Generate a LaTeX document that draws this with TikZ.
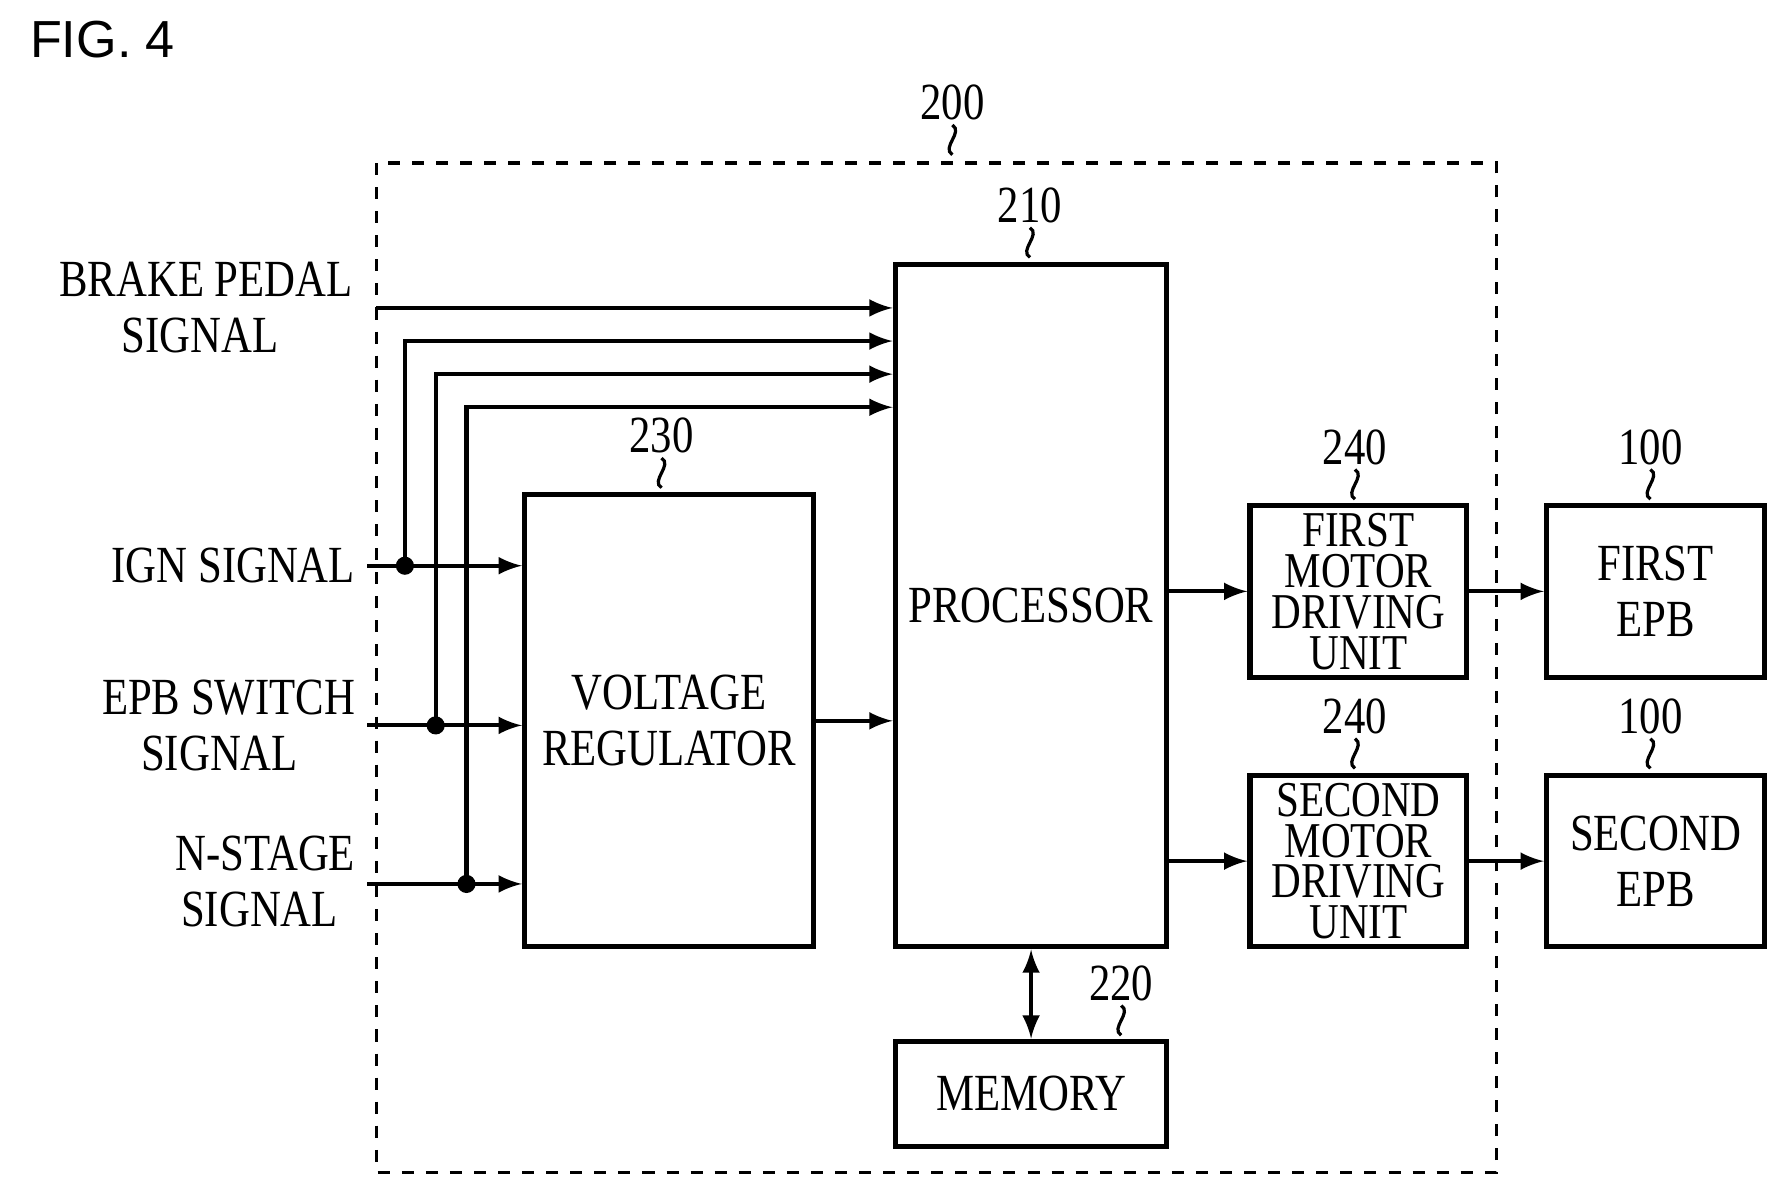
\documentclass[tikz,border=0pt]{standalone}
\usepackage{fontspec}
\setmainfont{Liberation Serif}[FakeStretch=0.82]
\newfontfamily\figfont{Liberation Sans}
\usetikzlibrary{positioning, arrows}
\tikzset{
	blk/.style={rectangle, draw, line width=1.3pt, align=center, inner sep=0pt,
		font=\fontsize{13}{14}\selectfont},
	drv/.style={blk, font=\fontsize{12.5}{10.2}\selectfont},
	sig/.style={align=right, font=\fontsize{13}{14}\selectfont, inner sep=0pt},
	ref/.style={font=\fontsize{13}{14}\selectfont, inner sep=1pt},
	arr/.style={-latex, line width=1pt},
	dot/.style={circle, fill, inner sep=1.6pt}
}
\newcommand{\refmark}[3]{%
	\node[ref] (#1) at (#2) {#3};
	\draw[line width=0.8pt] (#1.south) .. controls +(10,6) and +(-10,-6) .. ++(0,26);}
\begin{document}
\begin{tikzpicture}[x=0.01cm, y=-0.01cm]
			\useasboundingbox (0,0) rectangle (1565,1046);
			
			%Frame
			\node[font=\figfont\fontsize{13}{14}\selectfont, anchor=west] (fig) at (14,35) {FIG. 4};
			\draw[dashed, line width=0.8pt] (330,143) rectangle (1312,1028);
			\refmark{lblUnit}{835,90}{200}
			
			%Nodes
			\node[blk, minimum width=2.38cm, minimum height=5.98cm] (processor) at (904,531) {PROCESSOR};
			\refmark{lblProc}{903,180}{210}
			
			\node[blk, minimum width=2.53cm, minimum height=3.96cm] (regulator) at (586.5,632) {VOLTAGE\\REGULATOR};
			\refmark{lblReg}{580,382}{230}
			
			\node[blk, minimum width=2.38cm, minimum height=0.92cm] (memory) at (904,959) {MEMORY};
			\refmark{lblMem}{983,862}{220}
			
			\node[drv, minimum width=1.9cm, minimum height=1.51cm] (firstDrv) at (1191,518.5) {FIRST\\MOTOR\\DRIVING\\UNIT};
			\refmark{lblDrvA}{1188,392}{240}
			
			\node[drv, minimum width=1.9cm, minimum height=1.5cm] (secondDrv) at (1191,755) {SECOND\\MOTOR\\DRIVING\\UNIT};
			\refmark{lblDrvB}{1188,628}{240}
			
			\node[blk, minimum width=1.91cm, minimum height=1.51cm] (firstEpb) at (1451.5,518.5) {FIRST\\EPB};
			\refmark{lblEpbA}{1447,392}{100}
			
			\node[blk, minimum width=1.91cm, minimum height=1.5cm] (secondEpb) at (1451.5,755) {SECOND\\EPB};
			\refmark{lblEpbB}{1447,628}{100}
			
			%Input signals
			\node[sig, anchor=east] (brake) at (310,270) {BRAKE PEDAL\\SIGNAL\hspace*{0.65cm}};
			\node[sig, anchor=east] (ign) at (312,496) {IGN SIGNAL};
			\node[sig, anchor=east] (epbSw) at (312,636) {EPB SWITCH\\SIGNAL\hspace*{0.5cm}};
			\node[sig, anchor=east] (nStage) at (312,773) {N-STAGE\\SIGNAL\hspace*{0.15cm}};
			
			\coordinate (brakeIn) at (330,270);
			\coordinate (ignIn) at (322,496);
			\coordinate (epbIn) at (322,636);
			\coordinate (nIn) at (322,775);
			\node[dot] (ignDot) at (355,496) {};
			\node[dot] (epbDot) at (382,636) {};
			\node[dot] (nDot) at (409,775) {};
			
			%Links
			\draw[arr] (brakeIn) -- (brakeIn -| processor.west);
			\draw[arr] (ignIn) -- (ignIn -| regulator.west);
			\draw[arr] (epbIn) -- (epbIn -| regulator.west);
			\draw[arr] (nIn) -- (nIn -| regulator.west);
			\draw[arr] (ignDot.center) |- ([yshift=-0.29cm]brakeIn -| processor.west);
			\draw[arr] (epbDot.center) |- ([yshift=-0.58cm]brakeIn -| processor.west);
			\draw[arr] (nDot.center) |- ([yshift=-0.87cm]brakeIn -| processor.west);
			\draw[arr] (regulator.east) -- (regulator.east -| processor.west);
			\draw[arr] (firstDrv.west -| processor.east) -- (firstDrv.west);
			\draw[arr] (firstDrv.east) -- (firstEpb.west);
			\draw[arr] (secondDrv.west -| processor.east) -- (secondDrv.west);
			\draw[arr] (secondDrv.east) -- (secondEpb.west);
			\draw[latex-latex, line width=1pt] (processor.south -| memory.north) -- (memory.north);
			
\end{tikzpicture}
\end{document}
